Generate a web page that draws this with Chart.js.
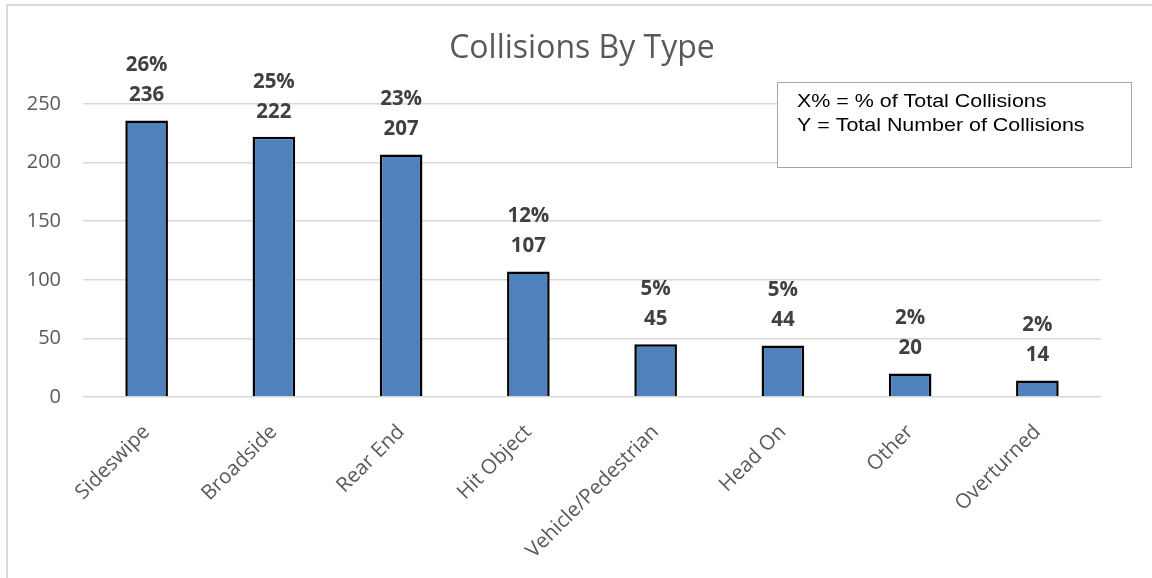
<!DOCTYPE html>
<html>
<head>
<meta charset="utf-8">
<script src="https://cdn.jsdelivr.net/npm/chart.js@4.4.1/dist/chart.umd.min.js"></script>
<style>
  html, body { margin: 0; padding: 0; background: #ffffff; }
  #wrap { width: 1152px; height: 578px; position: relative; }
</style>
</head>
<body>
<div id="wrap"><canvas id="chart" width="1152" height="578"></canvas></div>
<script>
// Collision counts by type
const categories = ['Sideswipe', 'Broadside', 'Rear End', 'Hit Object', 'Vehicle/Pedestrian', 'Head On', 'Other', 'Overturned'];
const collisionCounts = [236, 222, 207, 107, 45, 44, 20, 14];
const yTicks = [0, 50, 100, 150, 200, 250];
const chartTitle = 'Collisions By Type';
const noteLines = ['X% = % of Total Collisions', 'Y = Total Number of Collisions'];

const totalCollisions = collisionCounts.reduce((a, b) => a + b, 0);

// Two-line labels above each bar: share of total, then count
const barLabels = {
  id: 'barLabels',
  afterDatasetsDraw(chart) {
    const ctx = chart.ctx;
    const meta = chart.getDatasetMeta(0);
    ctx.save();
    ctx.font = 'bold 20.5px "Open Sans", sans-serif';
    ctx.fillStyle = '#404040';
    ctx.textAlign = 'center';
    ctx.textBaseline = 'middle';
    meta.data.forEach((bar, i) => {
      const v = collisionCounts[i];
      const pct = Math.round(v / totalCollisions * 100) + '%';
      ctx.fillText(String(v), bar.x, bar.y - 25);
      ctx.fillText(pct, bar.x, bar.y - 55);
    });
    ctx.restore();
  }
};

// Outer frame, title and the explanatory note box
const frameAndNote = {
  id: 'frameAndNote',
  beforeDraw(chart) {
    const ctx = chart.ctx;
    ctx.save();
    ctx.fillStyle = '#ffffff';
    ctx.fillRect(0, 0, chart.width, chart.height);
    ctx.strokeStyle = '#d9d9d9';
    ctx.lineWidth = 2;
    ctx.strokeRect(7, 5, chart.width + 20, chart.height + 20);
    ctx.fillStyle = '#595959';
    ctx.font = '32px "Open Sans", sans-serif';
    ctx.textAlign = 'center';
    ctx.textBaseline = 'middle';
    ctx.fillText(chartTitle, 582, 49);
    ctx.restore();
  },
  afterDraw(chart) {
    const ctx = chart.ctx;
    ctx.save();
    ctx.fillStyle = '#ffffff';
    ctx.fillRect(777, 82, 355, 85);
    ctx.strokeStyle = '#a6a6a6';
    ctx.lineWidth = 1;
    ctx.strokeRect(777.5, 82.5, 354, 85);
    ctx.fillStyle = '#000000';
    ctx.font = '18px "Liberation Sans", Arial, sans-serif';
    ctx.textAlign = 'left';
    ctx.textBaseline = 'middle';
    // note text is set slightly wide
    ctx.translate(797, 0);
    ctx.scale(1.19, 1);
    ctx.fillText(noteLines[0], 0, 102);
    ctx.fillText(noteLines[1], 0, 126);
    ctx.restore();
  }
};

new Chart(document.getElementById('chart'), {
  type: 'bar',
  data: {
    labels: categories,
    datasets: [{
      data: collisionCounts,
      backgroundColor: '#4f81bd',
      borderColor: '#000000',
      borderWidth: 2.5,
      categoryPercentage: 1,
      barPercentage: 0.335
    }]
  },
  options: {
    responsive: false,
    animation: false,
    layout: { padding: { left: 0, right: 51, top: 104, bottom: 0 } },
    plugins: {
      legend: { display: false },
      tooltip: { enabled: false },
      title: { display: false }
    },
    scales: {
      y: {
        min: 0,
        max: 250,
        afterBuildTicks(scale) { scale.ticks = yTicks.map(v => ({ value: v })); },
        afterFit(scale) { scale.width = 83; },
        border: { display: false },
        grid: { color: '#d9d9d9', lineWidth: 1.5, drawTicks: false },
        ticks: {
          color: '#595959',
          padding: 22,
          font: { family: '"Open Sans", sans-serif', size: 20 }
        }
      },
      x: {
        afterFit(scale) { scale.height = 181; },
        border: { display: false },
        grid: { display: false, drawTicks: false },
        ticks: {
          color: '#595959',
          padding: 23,
          minRotation: 45,
          maxRotation: 45,
          font: { family: '"Open Sans", sans-serif', size: 20.5 }
        }
      }
    }
  },
  plugins: [frameAndNote, barLabels]
});
</script>
</body>
</html>
